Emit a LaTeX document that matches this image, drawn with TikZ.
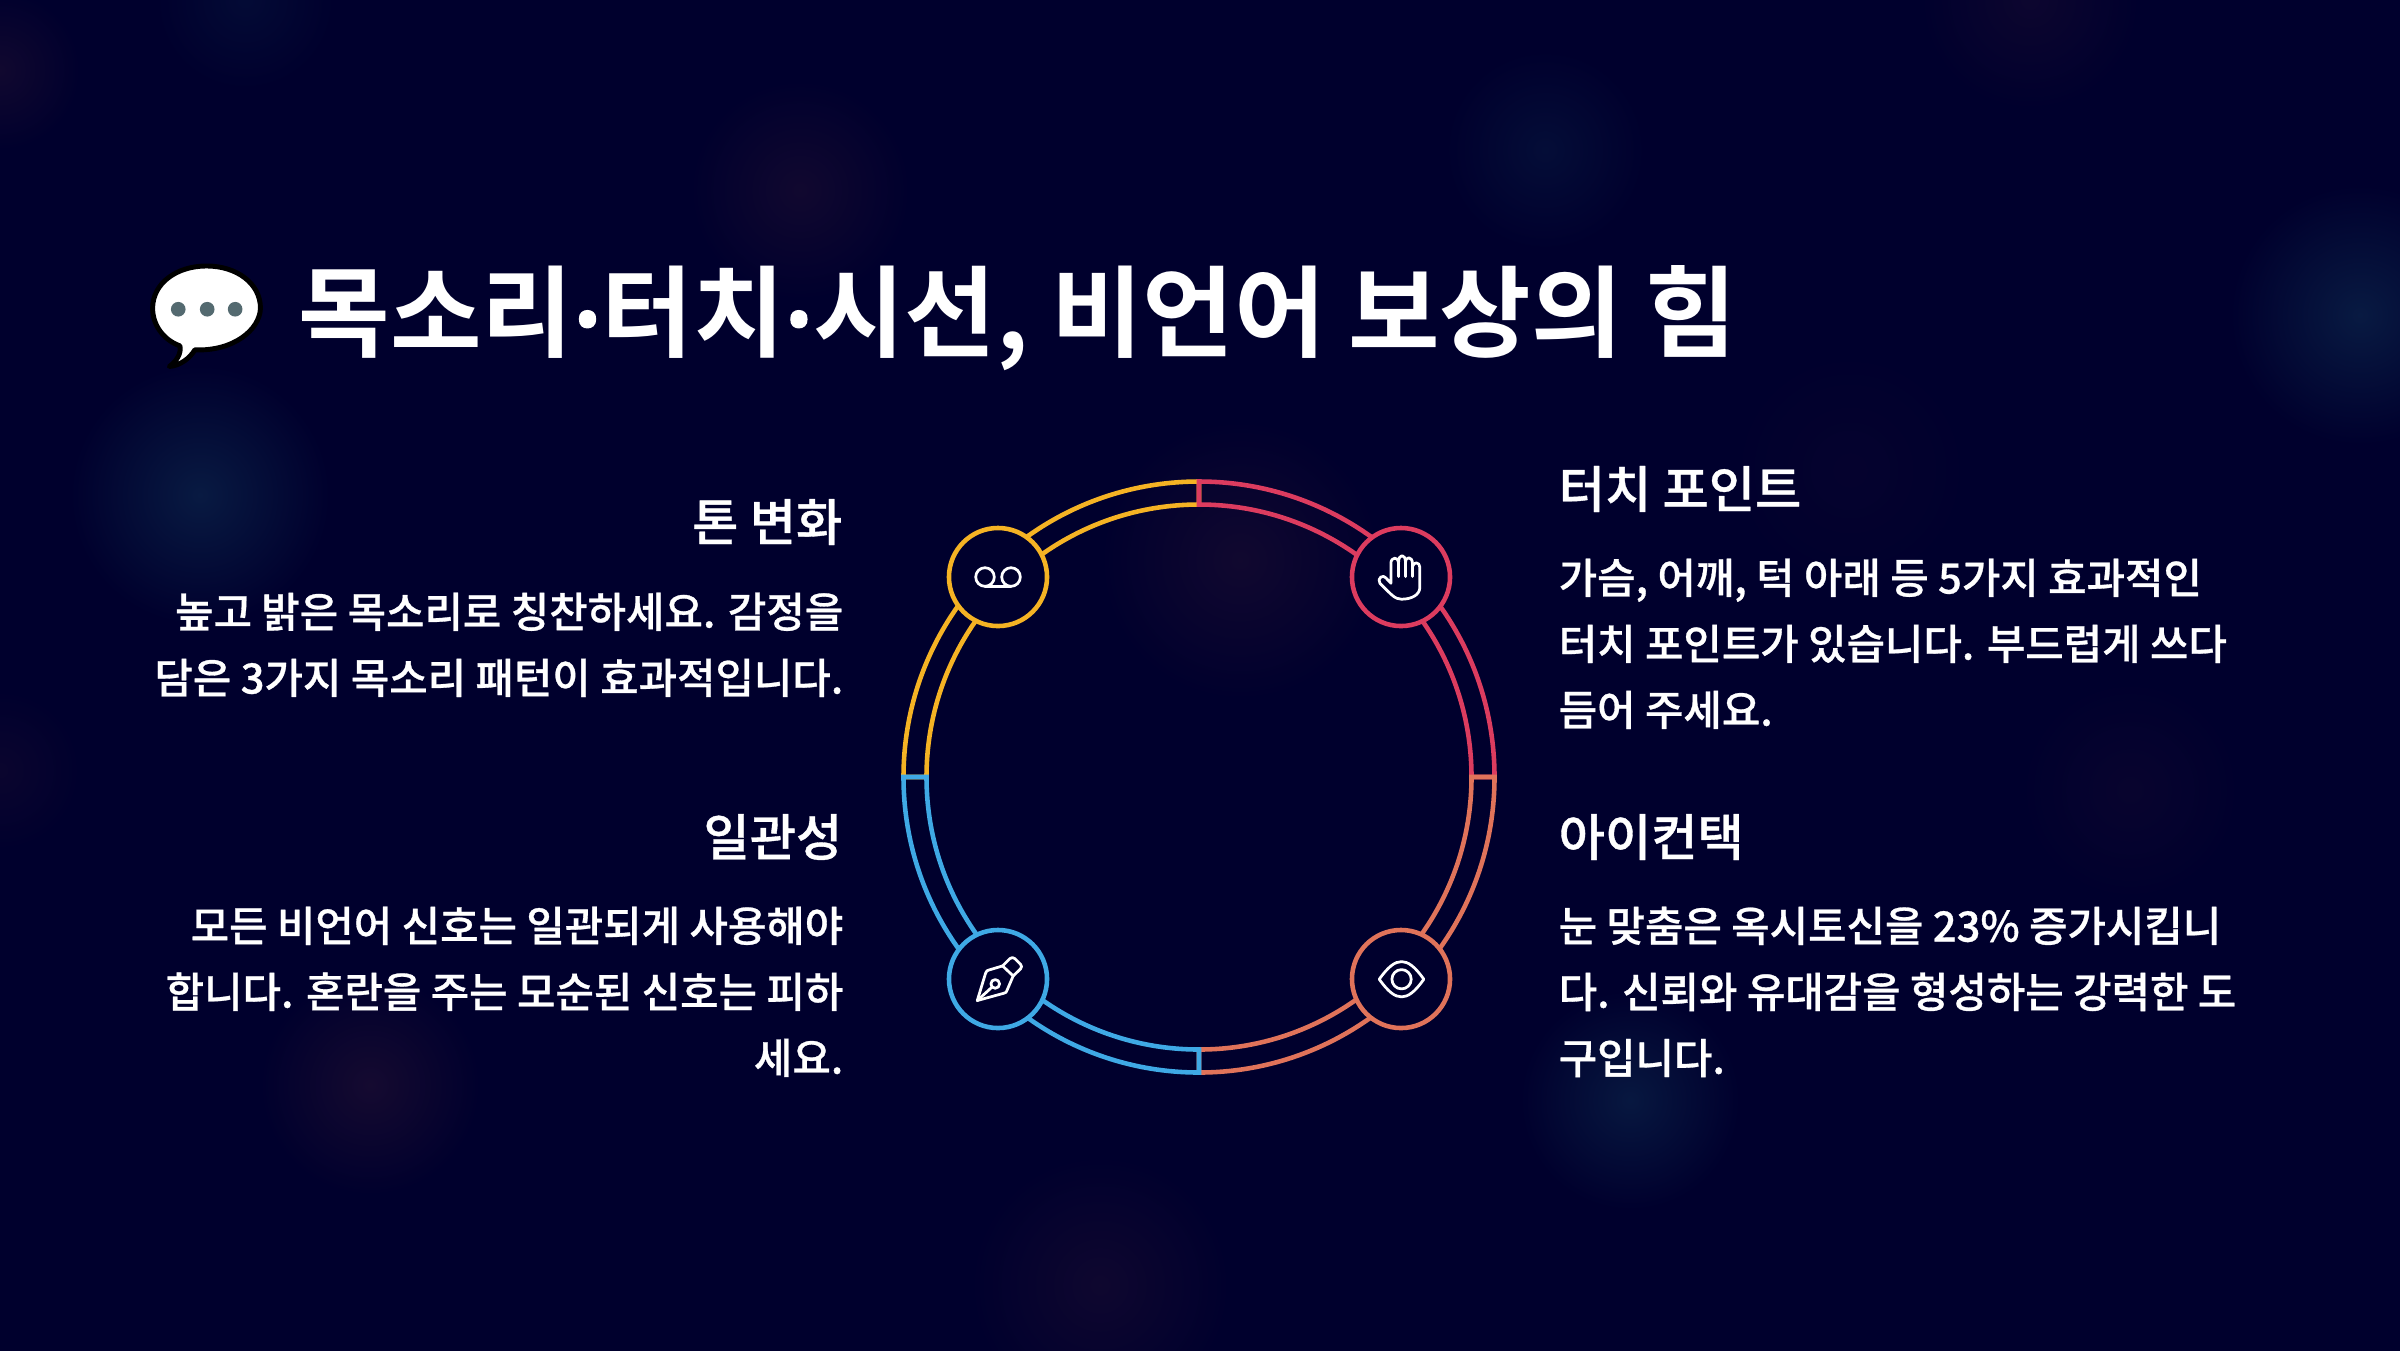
\documentclass[tikz,border=0pt]{standalone}
\usepackage{fontspec}
\usepackage{xcolor}
\newfontfamily\krbody{Noto Sans CJK KR Medium}[RawFeature={embolden=0.7}]
\newfontfamily\krhead{Noto Sans CJK KR Bold}
\newfontfamily\krdot{Noto Sans}[RawFeature={embolden=4}]
\usepackage{tikz}
\usetikzlibrary{calc}
\definecolor{nightbg}{HTML}{00002D}
\definecolor{ringyellow}{HTML}{F5B324}
\definecolor{ringred}{HTML}{DC3C5F}
\definecolor{ringorange}{HTML}{E0735A}
\definecolor{ringblue}{HTML}{3FA9E5}
\definecolor{dotgrey}{HTML}{546A70}
\definecolor{glowblue}{HTML}{081A42}
\definecolor{glowred}{HTML}{150A30}
\newcommand{\titledot}{\raisebox{-2pt}{\krdot\fontsize{30pt}{30pt}\selectfont ·}}
\tikzset{titletext/.style={inner sep=0pt, text=white, anchor=west, font=\krhead\fontsize{28.3pt}{32pt}\selectfont},
headtext/.style={inner sep=0pt, text=white, font=\krbody\fontsize{14.3pt}{16pt}\selectfont},
bodytext/.style={inner sep=0pt, text=white, font=\krbody\fontsize{11.88pt}{18.78pt}\selectfont},
ringline/.style={line width=1.3pt, fill=none},
iconline/.style={draw=white, line width=0.78pt, line join=round, line cap=round},
iconring/.style={draw, line width=1.3pt, fill=nightbg, circle, inner sep=0pt, minimum size=0.98cm}}

\begin{document}
\begin{tikzpicture}[x=0.01cm, y=0.01cm]
    % Background and the soft glows
    \useasboundingbox (0,0) rectangle (2400,-1350);
    \fill[nightbg] (-5,5) rectangle (2405,-1355);
    \begin{scope}
        \clip (0,0) rectangle (2400,-1350);
        \foreach \gx/\gy/\gr/\gc/\gs in {200/-495/130/glowblue/100, 2360/-315/130/glowblue/100, 1630/-1100/110/glowblue/90,
            1545/-150/100/glowblue/50, 245/0/90/glowblue/40, 800/-190/110/glowred/80, 1240/-560/140/glowred/80,
            370/-1085/110/glowred/100, 1100/-1285/130/glowred/70, 2130/-790/110/glowred/40, 0/-70/80/glowred/80,
            2030/0/110/glowred/60, 1850/-470/120/glowred/25, 0/-770/80/glowred/50}{
            \shade[inner color=\gc!\gs!nightbg, outer color=nightbg] (\gx,\gy) circle (\gr);
        }
    \end{scope}

    % Speech bubble beside the title
    \begin{scope}[shift={(130,-240)}, x=0.00333cm, y=0.00333cm]
        \draw[black, line width=1.4pt, fill=white, line join=round] (150,-318)
            .. controls (155,-340) and (140,-365) .. (118,-380)
            .. controls (150,-378) and (180,-355) .. (195,-330)
            .. controls (310,-335) and (390,-270) .. (392,-205)
            .. controls (392,-130) and (320,-78) .. (230,-78)
            .. controls (140,-78) and (68,-130) .. (68,-205)
            .. controls (68,-255) and (100,-300) .. (150,-318) -- cycle;
        \foreach \dx in {145,232,316}{
            \fill[dotgrey] (\dx,-208) circle (22);
        }
    \end{scope}

    % Title
    \node[titletext] (title) at (298,-318) {목소리\titledot 터치\titledot 시선, 비언어 보상의 힘};

    % Left column
    \node[headtext, anchor=east] (tonehead) at (843,-522) {톤 변화};
    \node[bodytext, anchor=north east, align=right] (tonebody) at (844,-592)
        {높고 밝은 목소리로 칭찬하세요. 감정을\\담은 3가지 목소리 패턴이 효과적입니다.};
    \node[headtext, anchor=east] (consisthead) at (843,-837) {일관성};
    \node[bodytext, anchor=north east, align=right] (consistbody) at (844,-906)
        {모든 비언어 신호는 일관되게 사용해야\\합니다. 혼란을 주는 모순된 신호는 피하\\세요.};

    % Right column
    \node[headtext, anchor=west] (touchhead) at (1558,-489) {터치 포인트};
    \node[bodytext, anchor=north west, align=left] (touchbody) at (1558,-558)
        {가슴, 어깨, 턱 아래 등 5가지 효과적인\\터치 포인트가 있습니다. 부드럽게 쓰다\\듬어 주세요.};
    \node[headtext, anchor=west] (eyehead) at (1558,-837) {아이컨택};
    \node[bodytext, anchor=north west, align=left] (eyebody) at (1558,-906)
        {눈 맞춤은 옥시토신을 23\% 증가시킵니\\다. 신뢰와 유대감을 형성하는 강력한 도\\구입니다.};

    % Ring, four quarters, each one laid over the one before
    \coordinate (center1) at (1199,-777);
    \foreach \ringc/\angs/\ange in {ringyellow/180/90, ringred/90/0, ringorange/0/-90, ringblue/-90/-180}{
        \draw[ringline, \ringc] ($(center1)+(\angs:295.5)$) arc[start angle=\angs, end angle=\ange, radius=295.5]
            -- ($(center1)+(\ange:272.5)$) arc[start angle=\ange, end angle=\angs, radius=272.5] -- cycle;
    }

    % Icon rings
    \node[iconring, draw=ringyellow] (voice) at (998,-577) {};
    \node[iconring, draw=ringred] (touch) at (1401,-577) {};
    \node[iconring, draw=ringblue] (pen) at (998,-979) {};
    \node[iconring, draw=ringorange] (eye) at (1401,-979) {};

    % Voicemail icon
    \draw[iconline] ([xshift=-0.13cm]voice.center) circle (9.3) ([xshift=0.13cm]voice.center) circle (9.3);
    \draw[iconline] ($(voice.center)+(-13,-9.3)$) -- ($(voice.center)+(13,-9.3)$);

    % Hand icon
    \begin{scope}[shift={(1320,-510)}, x=0.00333cm, y=0.00333cm]
        \draw[iconline] (213,-205) -- (213,-160) .. controls (213,-140) and (236,-140) .. (236,-158)
            (236,-158) -- (236,-200)
            (236,-158) .. controls (236,-130) and (257,-130) .. (257,-158) -- (257,-200)
            (257,-158) .. controls (257,-138) and (278,-138) .. (278,-162) -- (278,-200)
            (278,-170) .. controls (280,-155) and (300,-155) .. (300,-172) -- (300,-232)
            .. controls (300,-255) and (275,-268) .. (245,-268)
            .. controls (225,-268) and (215,-255) .. (180,-220)
            .. controls (170,-205) and (190,-192) .. (198,-204) -- (213,-220) -- (213,-205);
    \end{scope}

    % Pen icon
    \begin{scope}[shift={(920,-910)}, x=0.00333cm, y=0.00333cm]
        \draw[iconline] (172,-272) -- (197,-190) .. controls (199,-183) and (202,-181) .. (208,-180)
            -- (248,-168) -- (280,-198) -- (262,-240) .. controls (260,-247) and (258,-249) .. (252,-250) -- cycle;
        \draw[iconline] (248,-168) -- (270,-146) .. controls (275,-142) and (280,-142) .. (285,-146)
            -- (302,-163) .. controls (306,-168) and (306,-172) .. (302,-177) -- (280,-198);
        \draw[iconline] (226,-222) circle (13);
        \draw[iconline] (172,-272) -- (216,-232);
    \end{scope}

    % Eye icon
    \begin{scope}[shift={(1320,-910)}, x=0.00333cm, y=0.00333cm]
        \draw[iconline] (178,-208) .. controls (205,-170) and (225,-155) .. (245,-155)
            .. controls (265,-155) and (285,-170) .. (312,-208)
            .. controls (285,-246) and (265,-261) .. (245,-261)
            .. controls (225,-261) and (205,-246) .. (178,-208) -- cycle;
        \draw[iconline] (245,-208) circle (29);
    \end{scope}
\end{tikzpicture}
\end{document}
